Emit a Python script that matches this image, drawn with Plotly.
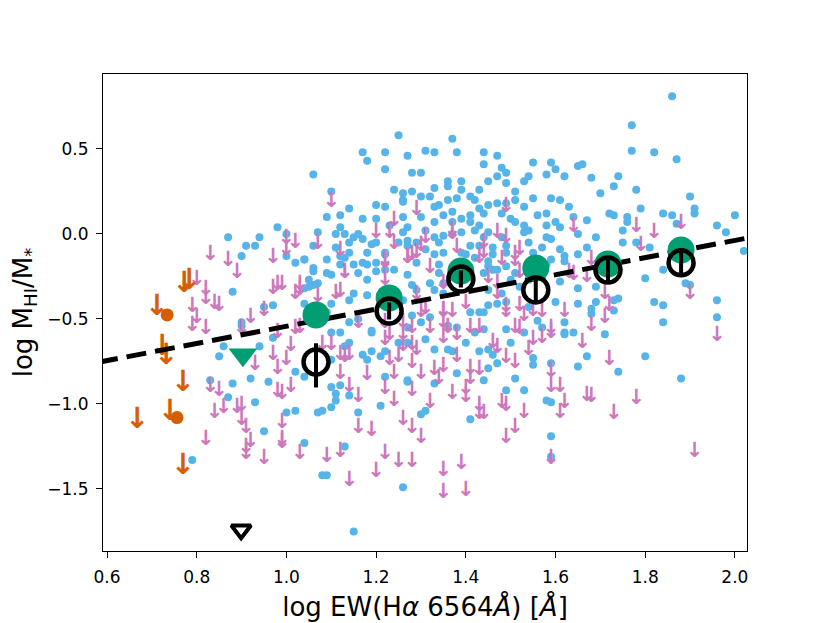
import plotly.graph_objects as go

# galaxies with HI detections (blue points)
blue_x = [1.25, 1.17, 1.22, 1.18, 1.22, 1.27, 1.06, 1.10, 1.24, 1.26,
          1.14, 1.20, 1.22, 1.09, 1.12, 1.17, 1.20, 1.26, 1.26, 1.12,
          1.23, 0.98, 1.07, 1.11, 1.13, 1.16, 1.26, 0.94, 0.91, 0.93,
          1.00, 1.06, 1.11, 1.14, 1.15, 1.17, 1.19, 1.20, 1.25, 1.27,
          0.90, 1.00, 1.02, 1.04, 1.12, 1.13, 1.15, 1.12, 1.17, 1.18,
          1.20, 1.22, 1.24, 1.27, 1.06, 1.09, 1.10, 1.16, 1.20, 1.22,
          1.06, 1.07, 1.04,
          1.37, 1.31, 1.33, 1.38, 1.44, 1.47, 1.55, 1.59, 1.58, 1.60,
          1.62, 1.44, 1.48, 1.49, 1.28, 1.30, 1.36, 1.39, 1.45, 1.47,
          1.49, 1.54, 1.53, 1.33, 1.36, 1.39, 1.43, 1.28, 1.51, 1.30,
          1.32, 1.36, 1.38, 1.41, 1.42, 1.55, 1.59, 1.61, 1.26, 1.45,
          1.47, 1.49, 1.51, 1.53, 1.63, 1.33, 1.34, 1.37, 1.35, 1.39,
          1.41, 1.43, 1.44, 1.48, 1.30, 1.33, 1.37, 1.41, 1.43, 1.50,
          1.51, 1.53, 1.56, 1.58, 1.61, 1.27, 1.31, 1.35, 1.37, 1.39,
          1.42, 1.44, 1.45, 1.48, 1.53, 1.58, 1.59, 1.27, 1.29, 1.33,
          1.34, 1.41, 1.43, 1.46, 1.49, 1.54, 1.57, 1.61, 1.31, 1.33,
          1.35, 1.40, 1.46, 1.49, 1.55, 1.59, 1.62, 1.29, 1.34, 1.45,
          1.46, 1.44, 1.49, 1.58, 1.61, 1.28, 1.32,
          1.86, 1.77, 1.77, 1.82, 1.87, 1.65, 1.66, 1.68, 1.74, 1.73,
          1.70, 1.78, 1.90, 1.79, 1.91, 1.91, 1.72, 1.73, 1.84, 1.86,
          2.00, 1.64, 1.67, 1.76, 1.76, 1.87, 1.96, 1.98, 1.65, 1.69,
          1.75, 1.78, 1.81, 1.75, 1.67, 1.65, 2.02, 1.84, 1.80, 1.89,
          1.90, 1.62,
          1.15, 1.18, 0.97, 0.95, 1.04, 0.90, 0.97, 0.94, 1.14, 1.16,
          1.12, 1.10, 1.19, 1.13, 1.14, 1.17, 1.18, 1.10, 1.19, 1.21,
          1.22, 1.25, 1.27, 1.27, 0.92, 0.96, 1.02, 1.04, 1.10, 1.12,
          1.11, 1.11, 1.14, 1.22, 0.93, 1.00, 1.02, 1.07, 1.08, 1.10,
          1.16, 1.21, 0.95, 1.04, 1.13, 1.08, 1.09, 1.26,
          1.35, 1.28, 1.27, 1.30, 1.32, 1.41, 1.43, 1.44, 1.45, 1.47,
          1.49, 1.54, 1.56, 1.57, 1.60, 1.62, 1.62, 1.38, 1.36, 1.40,
          1.42, 1.44, 1.31, 1.33, 1.36, 1.37, 1.43, 1.45, 1.46, 1.49,
          1.50, 1.53, 1.47, 1.45, 1.55, 1.55, 1.38, 1.44, 1.51, 1.49,
          1.53, 1.59, 1.27, 1.33, 1.31, 1.30, 1.41, 1.58, 1.59, 1.59,
          1.59,
          1.65, 1.69, 1.65, 1.68, 1.68, 1.69, 1.73, 1.74, 1.73, 1.62,
          1.64, 1.71, 1.82, 1.84, 1.84, 1.96, 1.96, 1.67, 1.65, 1.74,
          1.80, 1.88,
          0.88, 0.90, 0.85, 0.86, 0.83, 0.88, 0.87, 0.79, 1.15, 0.87,
          1.39, 1.42, 1.45, 1.47, 1.50, 1.52, 1.54, 1.48, 1.45, 1.35,
          1.33, 1.29, 1.26, 1.18, 1.14, 1.10, 1.19, 1.09, 1.18, 1.22,
          1.14, 1.09, 1.06, 1.04, 1.05, 1.05, 1.34, 1.51, 1.57, 1.60,
          1.58, 1.54]
blue_y = [0.58, 0.48, 0.48, 0.43, 0.38, 0.46, 0.35, 0.25, 0.26, 0.24,
          0.15, 0.17, 0.16, 0.10, 0.11, 0.09, 0.09, 0.10, 0.19, 0.04,
          0.05, 0.04, 0.01, 0.00, 0.00, 0.00, 0.01, -0.02, -0.07, -0.07,
          0.00, -0.07, -0.08, -0.05, -0.02, -0.03, -0.06, -0.05, -0.05, -0.07,
          -0.13, -0.13, -0.17, -0.15, -0.13, -0.14, -0.18, -0.18, -0.17, -0.18,
          -0.17, -0.12, -0.21, -0.24, -0.22, -0.23, -0.24, -0.23, -0.22, -0.21,
          -0.30, -0.29, -0.32,
          0.56, 0.49, 0.48, 0.48, 0.48, 0.46, 0.42, 0.42, 0.35, 0.38,
          0.34, 0.41, 0.39, 0.36, 0.36, 0.36, 0.31, 0.31, 0.31, 0.34,
          0.30, 0.34, 0.31, 0.27, 0.28, 0.26, 0.26, 0.25, 0.25, 0.22,
          0.22, 0.20, 0.21, 0.22, 0.20, 0.21, 0.21, 0.20, 0.20, 0.17,
          0.18, 0.18, 0.20, 0.16, 0.16, 0.16, 0.17, 0.13, 0.11, 0.09,
          0.11, 0.15, 0.12, 0.12, 0.10, 0.07, 0.07, 0.07, 0.05, 0.09,
          0.07, 0.05, 0.11, 0.05, 0.04, 0.04, 0.02, -0.01, 0.00, 0.01,
          0.02, -0.02, 0.01, -0.02, 0.01, -0.02, -0.03, -0.04, -0.05, -0.02,
          -0.05, -0.07, -0.07, -0.08, -0.07, -0.05, -0.08, -0.09, -0.09, -0.12,
          -0.11, -0.12, -0.12, -0.11, -0.11, -0.15, -0.13, -0.17, -0.18, -0.16,
          -0.21, -0.23, -0.19, -0.18, -0.28, -0.30, -0.29,
          0.81, 0.64, 0.49, 0.48, 0.44, 0.40, 0.41, 0.33, 0.34, 0.28,
          0.24, 0.26, 0.22, 0.15, 0.15, 0.12, 0.12, 0.11, 0.12, 0.11,
          0.11, 0.10, 0.08, 0.10, 0.07, 0.06, 0.05, 0.01, 0.00, -0.02,
          0.02, -0.05, -0.08, -0.05, -0.08, -0.12, -0.10, -0.21, -0.26, -0.29,
          -0.30, -0.16,
          -0.35, -0.36, -0.42, -0.43, -0.41, -0.52, -0.61, -0.66, -0.52, -0.50,
          -0.58, -0.58, -0.57, -0.66, -0.64, -0.71, -0.74, -0.74, -0.69, -0.72,
          -0.69, -0.64, -0.64, -0.86, -0.85, -0.87, -0.81, -0.84, -0.90, -0.89,
          -0.94, -0.98, -0.95, -0.84, -0.99, -1.05, -1.04, -1.05, -1.04, -1.02,
          -1.05, -1.01, -1.16, -1.23, -1.25, -1.42, -1.42, -1.49,
          -0.29, -0.48, -0.55, -0.52, -0.49, -0.46, -0.46, -0.46, -0.42, -0.41,
          -0.40, -0.43, -0.51, -0.55, -0.40, -0.52, -0.58, -0.55, -0.54, -0.64,
          -0.58, -0.56, -0.62, -0.68, -0.68, -0.69, -0.69, -0.68, -0.71, -0.56,
          -0.64, -0.58, -0.76, -0.79, -0.73, -0.77, -0.82, -0.86, -0.85, -0.92,
          -0.92, -0.76, -0.87, -0.88, -1.04, -1.06, -1.09, -0.98, -0.99, -1.19,
          -1.31,
          -0.32, -0.31, -0.41, -0.44, -0.47, -0.40, -0.39, -0.38, -0.45, -0.59,
          -0.58, -0.59, -0.40, -0.42, -0.52, -0.39, -0.49, -0.72, -0.78, -0.81,
          -0.72, -0.85,
          -0.34, -0.54, -0.72, -0.66, -0.86, -0.88, -0.96, -1.33, -1.75, -0.02,
          -0.11, -0.14, -0.19, -0.21, -0.27, -0.31, -0.27, -0.35, -0.33, -0.35,
          -0.33, -0.33, -0.39, -0.27, -0.39, -0.41, -0.58, -0.46, -0.11, -0.11,
          -0.11, -0.15, -0.20, -0.15, -0.27, -0.31, -0.23, -0.23, -0.25, 0.07,
          0.12, 0.02]

# HI non-detections (pink upper limits)
pink_x = [1.10, 1.24, 1.20, 1.00, 1.02, 1.00, 1.07, 1.12, 1.24, 0.97,
          1.27, 1.22, 1.13, 1.22, 0.98, 0.99, 1.03,
          1.29, 1.49, 1.31, 1.37, 1.37, 1.47, 1.49, 1.30, 1.38, 1.27,
          1.28, 1.32, 1.43, 1.48, 1.51, 1.52, 1.51, 1.45, 1.47, 1.52,
          1.35,
          1.64, 1.78, 1.82, 1.79, 1.88, 1.68, 1.63, 1.64, 1.67,
          0.97, 1.02, 1.03, 1.11, 0.95, 0.92, 0.90, 1.02, 1.03, 0.98,
          1.01, 0.97, 1.00, 0.93, 1.08, 1.10, 1.12, 1.13, 1.14, 1.12,
          0.98, 0.98, 0.99, 1.01, 0.90, 0.91, 0.91, 0.99, 0.99, 0.99,
          0.95, 1.03, 1.09, 1.12, 1.14, 1.16, 1.16, 1.19, 1.26, 1.18,
          1.22, 1.24, 1.24, 1.23, 1.25, 1.22, 1.25, 1.20, 1.14, 1.26,
          1.22, 1.26, 1.22, 1.26, 1.16,
          1.29, 1.30, 1.35, 1.37, 1.40, 1.49, 1.52, 1.53, 1.51, 1.52,
          1.57, 1.62, 1.59, 1.28, 1.29, 1.36, 1.35, 1.38, 1.41, 1.43,
          1.55, 1.54, 1.46, 1.47, 1.49, 1.51, 1.38, 1.35, 1.28, 1.30,
          1.33, 1.34, 1.41, 1.43, 1.41, 1.28, 1.37, 1.40, 1.40, 1.32,
          1.43, 1.43, 1.44, 1.48, 1.49, 1.53, 1.51, 1.49, 1.59, 1.59,
          1.61, 1.62, 1.61, 1.28, 1.30, 1.28, 1.35, 1.39, 1.35, 1.40,
          1.59,
          1.71, 1.72, 1.71, 1.68, 1.66, 1.72, 1.90, 1.96, 1.67, 1.68,
          1.78, 1.73, 1.91,
          0.83, 0.87, 0.89, 0.80, 0.82, 0.82, 0.84, 0.85, 0.79, 0.80,
          0.79, 0.82, 0.83, 0.85, 0.84, 0.86, 0.89, 0.90, 0.82, 0.92,
          0.91,
          1.13, 1.12, 1.23, 1.29, 1.22, 1.44, 1.44, 1.56, 1.07, 1.23,
          1.31, 1.35, 1.47, 1.49, 1.55, 1.57, 1.59, 1.35, 1.32, 1.28]
pink_y = [0.19, 0.08, 0.01, -0.03, -0.05, -0.09, -0.06, -0.10, -0.06, -0.14,
          -0.14, -0.17, -0.23, -0.27, -0.30, -0.30, -0.30,
          0.14, 0.16, -0.02, 0.02, 0.00, 0.01, -0.02, -0.07, -0.08, -0.14,
          -0.12, -0.20, -0.14, -0.15, -0.12, -0.09, -0.16, -0.26, -0.29, -0.23,
          -0.29,
          0.04, 0.04, 0.01, -0.07, 0.06, -0.15, -0.23, -0.24, -0.25,
          -0.32, -0.35, -0.33, -0.35, -0.45, -0.49, -0.56, -0.56, -0.55, -0.58,
          -0.66, -0.71, -0.74, -0.77, -0.65, -0.65, -0.71, -0.72, -0.71, -0.82,
          -0.79, -0.93, -0.94, -0.90, -1.01, -1.14, -1.26, -1.11, -1.21, -1.23,
          -1.32, -1.29, -1.31, -1.28, -0.90, -0.96, -1.14, -1.16, -1.09, -0.83,
          -0.91, -0.98, -0.82, -0.74, -0.72, -1.29, -1.34, -1.40, -1.45, -0.66,
          -0.62, -0.59, -0.52, -0.52, -0.52,
          -0.36, -0.46, -0.46, -0.46, -0.41, -0.46, -0.42, -0.48, -0.55, -0.56,
          -0.46, -0.46, -0.56, -0.65, -0.68, -0.55, -0.61, -0.59, -0.55, -0.55,
          -0.62, -0.68, -0.64, -0.67, -0.73, -0.76, -0.72, -0.78, -0.76, -0.82,
          -0.80, -0.85, -0.79, -0.80, -0.85, -0.92, -0.94, -0.91, -0.96, -0.99,
          -1.01, -1.06, -1.06, -0.99, -1.01, -1.05, -1.14, -1.20, -0.81, -0.90,
          -0.90, -0.99, -1.05, -1.14, -1.20, -1.34, -1.39, -1.35, -1.52, -1.51,
          -1.32,
          -0.35, -0.42, -0.49, -0.54, -0.64, -0.74, -0.35, -0.60, -0.95, -0.96,
          -0.97, -1.06, -1.28,
          -0.12, -0.16, -0.23, -0.27, -0.33, -0.38, -0.41, -0.42, -0.43, -0.49,
          -0.54, -0.56, -0.90, -0.92, -1.05, -1.02, -1.02, -1.09, -1.21, -1.22,
          -1.29,
          -0.23, -0.34, 0.01, -0.11, -0.16, -0.05, -0.11, -0.18, -0.37, -0.59,
          -0.44, -0.45, -0.35, -0.43, -0.45, -0.61, -0.58, -0.52, -0.55, -0.55]

# comparison sample (orange)
orange_lim_x = [0.772, 0.783, 0.711, 0.723, 0.732, 0.769, 0.667, 0.740, 0.769]
orange_lim_y = [-0.30, -0.28, -0.435, -0.67, -0.72, -0.88, -1.10, -1.05, -1.37]
orange_det_x = [0.734, 0.756]
orange_det_y = [-0.476, -1.08]

# binned values
bin_x = [1.066, 1.229, 1.389, 1.556, 1.717, 1.880]
bin_green = [-0.476, -0.376, -0.218, -0.200, -0.176, -0.094]
bin_black = [-0.753, -0.453, -0.265, -0.329, -0.212, -0.170]
bin_black_up = [0.11, 0.05, 0.05, 0.08, 0.07, 0.07]
bin_black_down = [0.15, 0.05, 0.05, 0.08, 0.07, 0.07]

green_tri_x = [0.903]
green_tri_y = [-0.71]
open_tri_x = [0.899]
open_tri_y = [-1.74]

# linear fit
fit_x = [0.58, 2.05]
fit_slope = 0.505
fit_intercept = -1.048

BLUE = '#56B4E9'
PINK = '#CC78BC'
ORANGE = '#D55E00'
GREEN = '#029E73'

fig = go.Figure()

fig.add_trace(go.Scatter(x=blue_x, y=blue_y, mode='markers',
                         marker=dict(color=BLUE, size=8, line=dict(width=0))))
fig.add_trace(go.Scatter(x=pink_x, y=pink_y, mode='text', text=['↓'] * len(pink_x),
                         textposition='middle center',
                         textfont=dict(family='DejaVu Sans', size=21, color=PINK, weight='bold')))
fig.add_trace(go.Scatter(x=orange_det_x, y=orange_det_y, mode='markers',
                         marker=dict(color=ORANGE, size=13, line=dict(width=0))))
fig.add_trace(go.Scatter(x=orange_lim_x, y=orange_lim_y, mode='text', text=['↓'] * len(orange_lim_x),
                         textposition='middle center',
                         textfont=dict(family='DejaVu Sans', size=29, color=ORANGE, weight='bold')))

fit_y = [fit_intercept + fit_slope * v for v in fit_x]
fig.add_trace(go.Scatter(x=fit_x, y=fit_y, mode='lines',
                         line=dict(color='black', width=5, dash='20px,9px')))

fig.add_trace(go.Scatter(x=bin_x, y=bin_green, mode='markers',
                         marker=dict(color=GREEN, size=27, line=dict(width=0))))
fig.add_trace(go.Scatter(x=green_tri_x, y=green_tri_y, mode='markers',
                         marker=dict(color=GREEN, size=25, symbol='triangle-down', line=dict(width=0))))
fig.add_trace(go.Scatter(x=bin_x, y=bin_black, mode='markers',
                         marker=dict(color='black', size=25, symbol='circle-open', line=dict(width=4.5)),
                         error_y=dict(type='data', symmetric=False, array=bin_black_up,
                                      arrayminus=bin_black_down, color='black', thickness=4, width=0)))
fig.add_trace(go.Scatter(x=open_tri_x, y=open_tri_y, mode='markers',
                         marker=dict(color='black', size=17, symbol='triangle-down-open', line=dict(width=4))))

axis_common = dict(showgrid=False, zeroline=False, showline=True, mirror=True,
                   linecolor='black', linewidth=1.2, ticks='outside', ticklen=6,
                   tickwidth=1.2, tickcolor='black', tickformat='.1f', automargin=False,
                   ticklabelstandoff=4,
                   tickfont=dict(family='DejaVu Sans', size=17, color='black'))

# page body adds an 8px offset, so the figure is drawn 8px smaller
fig.update_layout(
    width=822, height=615,
    margin=dict(l=95, r=83, t=66, b=72),
    paper_bgcolor='white', plot_bgcolor='white',
    showlegend=False,
    font=dict(family='DejaVu Sans', color='black'),
    xaxis=dict(range=[0.591, 2.027], tick0=0.6, dtick=0.2,
               title=dict(text='log EW(H<i>α</i> 6564<i>Å</i>) [<i>Å</i>]',
                          font=dict(size=26), standoff=12),
               **axis_common),
    yaxis=dict(range=[-1.865, 0.941], tick0=0, dtick=0.5,
               title=dict(text='log M<sub>HI</sub>/M<sub>*</sub>',
                          font=dict(size=26), standoff=10),
               **axis_common),
)

fig.write_html('out.html')
